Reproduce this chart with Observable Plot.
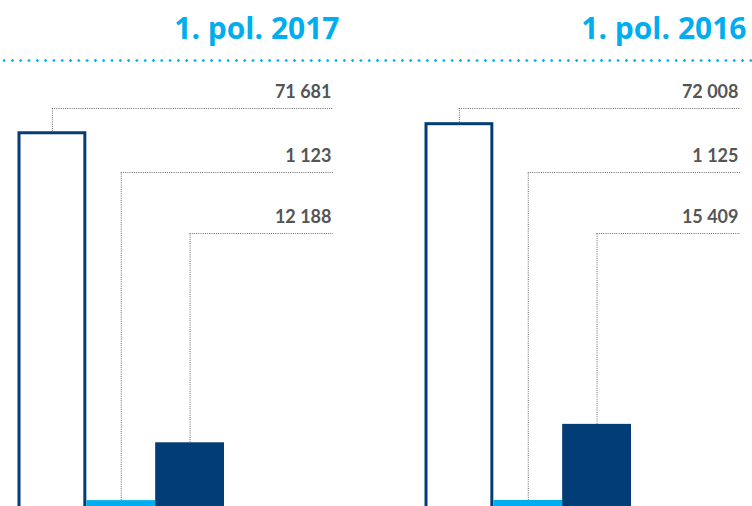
<!DOCTYPE html>
<html><head><meta charset="utf-8">
<script src="https://cdn.jsdelivr.net/npm/d3@7"></script>
<script src="https://cdn.jsdelivr.net/npm/@observablehq/plot@0.6"></script>
<style>
html,body{margin:0;padding:0;background:#fff;}
#wrap{position:relative;width:752px;height:506px;overflow:hidden;font-family:Lato,"Open Sans",sans-serif;}
#panels{display:flex;width:814px;height:506px;}
.panel{width:407px;flex:0 0 407px;height:506px;overflow:hidden;}
#dots{position:absolute;left:0;top:58.5px;width:752px;height:3px;background-image:radial-gradient(circle, #00aeef 1.1px, transparent 1.5px);background-size:8.3px 3px;background-repeat:repeat-x;}
</style></head><body>
<div id="wrap"><div id="panels"></div><div id="dots"></div></div>
<script>
// ---- data ----
const periods = ["1. pol. 2017", "1. pol. 2016"];
const categories = ["sloupec 1", "sloupec 2", "sloupec 3"];
const values2017 = [71681, 1123, 12188];
const values2016 = [72008, 1125, 15409];
const yMaxes = [84930, 83300];

// ---- styles / layout ----
const NAVY = "#033d77", LIGHT = "#00aeef", GREY = "#555555", LEADER = "#6a6a6a";
const W = 407, H = 506, TOP = 62, RIGHT = 74;
const X_RANGE = [17.5, 224];
const rowPx = [108, 172, 233];
const fmt = d3.formatLocale({decimal: ",", thousands: " ", grouping: [3], currency: ["", ""]}).format(",d");

function panel(title, values, yMax) {
  const data = categories.map((c, i) => ({cat: c, value: values[i], idx: i}));
  const yScale = Plot.scale({y: {domain: [0, yMax], range: [H, TOP]}});
  const xScale = Plot.scale({x: {domain: [0, categories.length], range: X_RANGE}});
  const xEnd = xScale.invert(W - RIGHT);
  data.forEach((d, i) => d.row = yScale.invert(rowPx[i]));
  return Plot.plot({
    width: W, height: H,
    marginTop: TOP, marginBottom: 0, marginLeft: 0, marginRight: RIGHT,
    x: {domain: [0, categories.length], range: X_RANGE, axis: null},
    y: {domain: [0, yMax], axis: null},
    style: {fontFamily: "Lato, 'Open Sans', sans-serif", background: "white", overflow: "hidden"},
    marks: [
      Plot.rectY(data.filter(d => d.idx === 0), {x1: "idx", x2: d => d.idx + 1, y: "value", fill: "white", stroke: NAVY, strokeWidth: 3,
        insetLeft: 1.5, insetRight: 1.5, insetTop: 1.5, insetBottom: -4}),
      Plot.rectY(data.filter(d => d.idx === 1), {x1: "idx", x2: d => d.idx + 1, y: "value", fill: LIGHT}),
      Plot.rectY(data.filter(d => d.idx === 2), {x1: "idx", x2: d => d.idx + 1, y: "value", fill: NAVY}),
      Plot.ruleX(data, {x: d => d.idx + 0.5, y1: "value", y2: "row", stroke: LEADER, strokeWidth: 1, strokeDasharray: "1,1.2"}),
      Plot.ruleY(data, {y: "row", x1: d => d.idx + 0.5, x2: () => xEnd, stroke: LEADER, strokeWidth: 1, strokeDasharray: "1,1.2"}),
      Plot.text(data, {y: "row", frameAnchor: "right", lineAnchor: "middle", text: d => fmt(d.value), textAnchor: "end",
        dx: -2, dy: -15.8, fontSize: 18, fontWeight: 700, fill: GREY}),
      Plot.text([title], {frameAnchor: "top-right", lineAnchor: "middle", text: d => d, textAnchor: "end",
        dx: 6, dy: -33.6, fontSize: 30, fontWeight: 700, fill: LIGHT, fontFamily: "'Open Sans', Lato, sans-serif"})
    ]
  });
}

const host = document.getElementById("panels");
[values2017, values2016].forEach((vals, i) => {
  const div = document.createElement("div");
  div.className = "panel";
  div.appendChild(panel(periods[i], vals, yMaxes[i]));
  host.appendChild(div);
});
</script>
</body></html>
